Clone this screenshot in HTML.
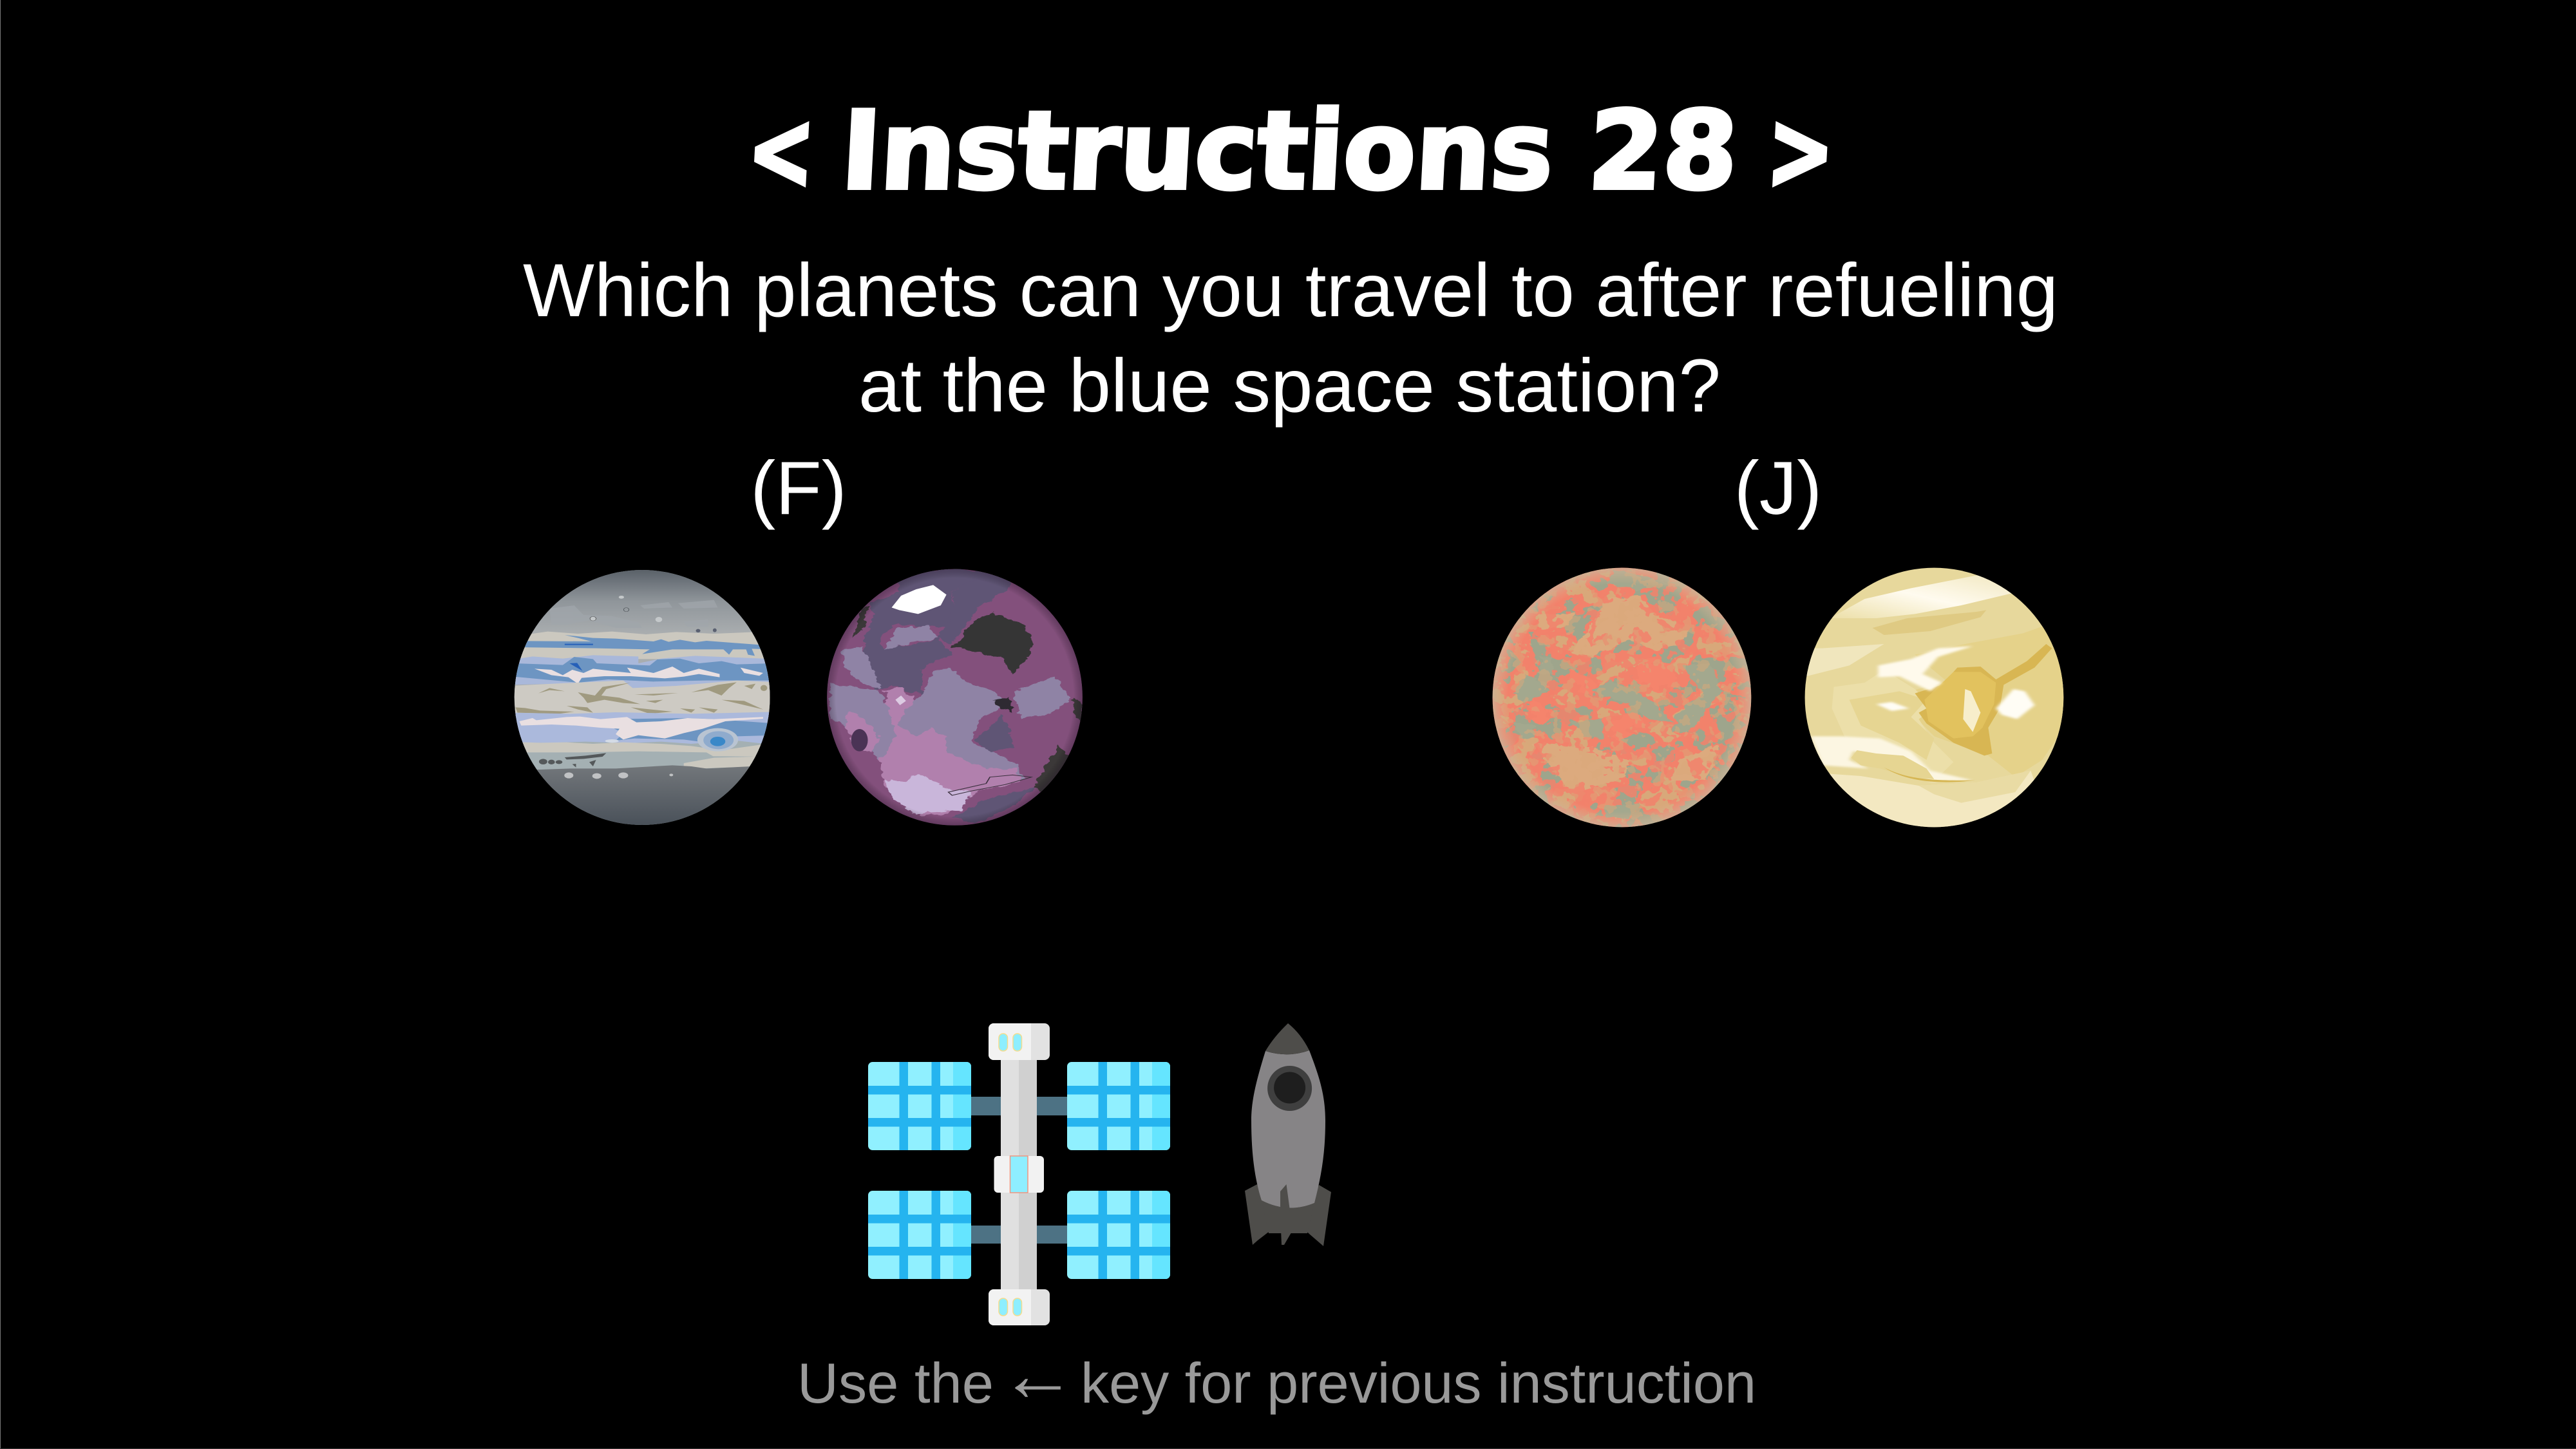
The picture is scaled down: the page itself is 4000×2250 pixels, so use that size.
<!DOCTYPE html>
<html lang="en">
<head>
<meta charset="utf-8">
<title>Instructions 28</title>
<style>
html,body{margin:0;padding:0;background:#000;width:4000px;height:2250px;overflow:hidden}
svg{display:block}
.t{font-family:"Liberation Sans",Arial,sans-serif;fill:#fff}
</style>
</head>
<body>
<svg xmlns="http://www.w3.org/2000/svg" width="4000" height="2250" viewBox="0 0 4000 2250">
<defs>
  <clipPath id="cj"><ellipse cx="370" cy="669" rx="338" ry="594"/></clipPath>
  <clipPath id="cp"><ellipse cx="1197" cy="668" rx="338" ry="597"/></clipPath>
  <clipPath id="co"><ellipse cx="381" cy="669" rx="335" ry="604"/></clipPath>
  <clipPath id="cv"><ellipse cx="1190" cy="669" rx="335" ry="604"/></clipPath>
  <linearGradient id="jtop" x1="0" y1="0" x2="0" y2="1"><stop offset="0" stop-color="#585f67"/><stop offset="0.25" stop-color="#8f959a"/><stop offset="0.5" stop-color="#a9adaf"/></linearGradient>
  <linearGradient id="jbot" x1="0" y1="0" x2="0" y2="1"><stop offset="0" stop-color="#73777b"/><stop offset="1" stop-color="#444c55"/></linearGradient>
  <radialGradient id="edgeP" cx="0.5" cy="0.5" r="0.5"><stop offset="0.93" stop-color="#000" stop-opacity="0"/><stop offset="1" stop-color="#1a0a20" stop-opacity="0.3"/></radialGradient>
  <radialGradient id="edgeO" cx="0.5" cy="0.5" r="0.5"><stop offset="0.88" stop-color="#ddb08a" stop-opacity="0"/><stop offset="1" stop-color="#c9b49a" stop-opacity="0.75"/></radialGradient>
  <linearGradient id="vtop" x1="0" y1="1" x2="1" y2="0"><stop offset="0" stop-color="#ecdfa8"/><stop offset="0.5" stop-color="#fffbef"/><stop offset="1" stop-color="#f1e7bf"/></linearGradient>
  <filter id="mottle" x="0" y="0" width="100%" height="100%" color-interpolation-filters="sRGB">
    <feTurbulence type="fractalNoise" baseFrequency="0.022 0.025" numOctaves="4" seed="11"/>
    <feColorMatrix type="matrix" values="1 0 0 0 0  1 0 0 0 0  1 0 0 0 0  0 0 0 0 1"/>
    <feComponentTransfer>
      <feFuncR type="discrete" tableValues="0.62 0.62 0.62 0.62 0.62 0.62 0.62 0.62 0.62 0.95 0.95 0.95 0.85 0.85 0.85 0.85 0.85 0.85 0.85 0.85"/>
      <feFuncG type="discrete" tableValues="0.65 0.65 0.65 0.65 0.65 0.65 0.65 0.65 0.65 0.51 0.51 0.51 0.66 0.66 0.66 0.66 0.66 0.66 0.66 0.66"/>
      <feFuncB type="discrete" tableValues="0.55 0.55 0.55 0.55 0.55 0.55 0.55 0.55 0.55 0.42 0.42 0.42 0.48 0.48 0.48 0.48 0.48 0.48 0.48 0.48"/>
    </feComponentTransfer>
  </filter>
  <filter id="speckCoral" x="0" y="0" width="100%" height="100%" color-interpolation-filters="sRGB">
    <feTurbulence type="fractalNoise" baseFrequency="0.045 0.05" numOctaves="3" seed="23"/>
    <feColorMatrix type="matrix" values="0 0 0 0 0.95  0 0 0 0 0.51  0 0 0 0 0.42  1 0 0 0 0"/>
    <feComponentTransfer><feFuncA type="discrete" tableValues="0 0 0 0 0 0 0 0 0 0 0 1 1 1 1 1 1 1 1 1"/></feComponentTransfer>
  </filter>
  <filter id="speckTan" x="0" y="0" width="100%" height="100%" color-interpolation-filters="sRGB">
    <feTurbulence type="fractalNoise" baseFrequency="0.05 0.055" numOctaves="3" seed="41"/>
    <feColorMatrix type="matrix" values="0 0 0 0 0.85  0 0 0 0 0.66  0 0 0 0 0.48  1 0 0 0 0"/>
    <feComponentTransfer><feFuncA type="discrete" tableValues="0 0 0 0 0 0 0 0 0 0 0 0 1 1 1 1 1 1 1 1"/></feComponentTransfer>
  </filter>
  <filter id="rough" x="-10%" y="-10%" width="120%" height="120%">
    <feTurbulence type="fractalNoise" baseFrequency="0.035" numOctaves="3" seed="4" result="n"/>
    <feDisplacementMap in="SourceGraphic" in2="n" scale="26" xChannelSelector="R" yChannelSelector="G"/>
  </filter>
  <filter id="b1" x="-20%" y="-20%" width="140%" height="140%"><feGaussianBlur stdDeviation="5"/></filter>
  <g id="panel">
    <rect x="0" y="0" width="160" height="137" rx="7" fill="#90f0ff"/>
    <path d="M132,0H153a7,7 0 0 1 7,7V130a7,7 0 0 1 -7,7H132Z" fill="#65e5ff"/>
    <rect x="48.500" y="0" width="13.500" height="137" fill="#25b4ef"/>
    <rect x="98.500" y="0" width="13.500" height="137" fill="#25b4ef"/>
    <rect x="0" y="37" width="160" height="13.500" fill="#25b4ef"/>
    <rect x="0" y="87" width="160" height="13.500" fill="#25b4ef"/>
  </g>
  <g id="pills">
    <rect x="0" y="0" width="13.500" height="27" rx="6.700" fill="#8eeeff" stroke="#f5dc8c" stroke-width="1.500"/>
    <rect x="22" y="0" width="13.500" height="27" rx="6.700" fill="#8eeeff" stroke="#f5dc8c" stroke-width="1.500"/>
  </g>
</defs>

<rect x="0" y="0" width="4000" height="2250" fill="#000"/>
<rect x="0" y="0" width="1" height="2250" fill="#777"/>
<rect x="0" y="2249" width="4000" height="1" fill="#333"/>

<text transform="translate(0,292) skewX(-3) translate(0,-292)" y="292" font-family="'DejaVu Sans',sans-serif" font-weight="700" font-size="167" fill="#fff" stroke="#fff" stroke-width="6"><tspan x="1158" textLength="104" lengthAdjust="spacingAndGlyphs">&lt;</tspan><tspan x="1304" textLength="1105" lengthAdjust="spacingAndGlyphs">Instructions</tspan><tspan x="2464" textLength="231" lengthAdjust="spacingAndGlyphs">28</tspan><tspan x="2741" textLength="104" lengthAdjust="spacingAndGlyphs">&gt;</tspan></text>

<text class="t" x="812" y="491" font-size="117" textLength="2384" lengthAdjust="spacingAndGlyphs">Which planets can you travel to after refueling</text>
<text class="t" x="1333" y="639" font-size="117" textLength="1339" lengthAdjust="spacingAndGlyphs">at the blue space station?</text>
<text class="t" x="1240" y="798" font-size="117" text-anchor="middle">(F)</text>
<text class="t" x="2761" y="798" font-size="117" text-anchor="middle">(J)</text>

<!-- Striped planet -->
<g transform="translate(780,860) scale(0.5869,0.33333)">
 <g clip-path="url(#cj)">
  <rect x="0" y="60" width="760" height="1240" fill="#a4b0b3"/>
  <rect x="0" y="70" width="760" height="600" fill="url(#jtop)"/>
  <g fill="#a0a6ab" opacity="0.75">
   <path d="M125,255 L190,240 L215,285 L290,290 L360,320 L300,345 L230,310 L170,330 L130,330Z"/>
   <path d="M365,240 L440,225 L450,250 L375,255Z"/><path d="M465,230 L560,215 L570,250 L480,255Z"/>
   <path d="M285,320 L360,320 L370,345 L300,345Z"/><path d="M480,315 L545,305 L545,340 L490,340Z"/>
  </g>
  <ellipse cx="315" cy="202" rx="7" ry="7" fill="#c4c8ca"/>
  <ellipse cx="414" cy="306" rx="9" ry="12" fill="#c4c8ca"/>
  <ellipse cx="240" cy="302" rx="8" ry="10" fill="#c4c8ca" stroke="#555" stroke-width="1.500"/>
  <ellipse cx="328" cy="260" rx="7" ry="9" fill="none" stroke="#4d5358" stroke-width="1.500"/>
  <ellipse cx="518" cy="358" rx="6" ry="8" fill="#5a6070"/>
  <ellipse cx="562" cy="356" rx="5" ry="9" fill="#5a6070"/>
  <path d="M0,375 L80,372 L120,362 L200,372 L290,362 L380,375 L460,364 L560,372 L700,362 L760,370 V490 H0Z" fill="#cbc8bf"/>
  <path d="M165,378 L240,392 L300,395 L400,408 L420,398 L440,410 L470,400 L510,412 L540,405 L690,425 L700,445 L660,442 L668,475 L650,470 L645,445 L610,445 L600,470 L585,445 L450,445 L370,467 L390,445 L250,440 L40,435 L60,406 L235,408 L200,392Z" fill="#6d95c2"/>
  <path d="M165,419 H240 V425 H165Z" fill="#2660b8"/>
  <path d="M30,492 L80,478 L160,488 L240,472 L360,478 L360,510 L420,488 L510,475 L720,490 V620 L620,598 L500,615 L350,640 L200,635 L160,605 L30,610Z" fill="#a9b8da"/>
  <path d="M30,510 L160,518 L190,480 L240,490 L250,510 L390,520 L410,492 L470,488 L520,510 L580,500 L620,515 L720,510 V590 L540,590 L400,595 L280,585 L200,600 L30,572Z" fill="#6d95c2"/>
  <path d="M85,535 L130,540 L160,565 L185,540 L215,555 L240,535 L300,548 L340,555 L330,530 L400,555 L450,525 L480,555 L520,535 L575,560 L575,575 L520,560 L480,572 L430,580 L340,570 L270,570 L210,578 L200,605 L175,575 L130,565Z" fill="#e9dfe1"/>
  <path d="M630,530 L690,555 L680,568 L640,555Z" fill="#e9dfe1"/>
  <path d="M178,510 L198,508 L212,545 L192,525Z" fill="#2660b8"/>
  <path d="M20,615 L170,602 L320,590 L345,625 L460,615 L620,590 L720,598 V760 H20Z" fill="#cdcac3"/>
  <g fill="#a09a80">
   <path d="M95,650 L125,625 L165,640 L125,635Z"/>
   <path d="M200,645 L245,660 L265,620 L340,600 L275,630 L262,660 L310,670 L365,700 L320,695 L270,680 L225,695 L215,670Z"/>
   <path d="M350,655 L465,648 L400,660Z"/><path d="M380,685 L425,680 L405,695Z"/>
   <path d="M500,645 L570,610 L620,598 L600,625 L580,660 L545,635Z"/>
   <path d="M640,615 L670,605 L660,630Z"/><ellipse cx="692" cy="625" rx="9" ry="14"/>
   <path d="M580,680 L640,685 L690,725 L630,700Z"/>
   <path d="M35,715 L60,718 L100,730 L190,735 L150,745 L40,740Z"/><path d="M170,708 L225,715 L240,740 L200,725Z"/>
   <path d="M340,715 L450,735 L390,745Z"/><path d="M470,720 L510,725 L500,740Z"/><path d="M520,715 L570,725 L560,740Z"/>
  </g>
  <path d="M20,740 L180,745 L300,738 L500,745 L720,736 V890 L620,870 L500,885 L420,875 L330,882 L220,875 L130,880 L20,880Z" fill="#abb9dc"/>
  <path d="M290,770 L500,765 L560,770 L720,790 V845 L620,850 L600,890 L545,880 L480,865 L350,860 L300,870 L320,835 L280,800Z" fill="#6d95c2"/>
  <path d="M45,780 L80,765 L90,775 L170,760 L205,758 L260,770 L330,760 L355,785 L420,780 L490,765 L560,770 L690,760 L690,768 L590,780 L530,815 L480,835 L430,860 L360,845 L320,865 L300,840 L310,815 L260,810 L195,800 L130,795 L50,800Z" fill="#e9dfe1"/>
  <ellipse cx="290" cy="872" rx="18" ry="8" fill="#d4dbe6"/>
  <path d="M20,880 L60,878 L100,880 L170,878 L240,885 L320,878 L420,885 L500,895 L580,915 L620,905 L720,880 V945 L20,935Z" fill="#cbc8bf"/>
  <ellipse cx="570" cy="866" rx="54" ry="54" fill="#b9c4d2"/>
  <ellipse cx="572" cy="868" rx="40" ry="42" fill="#8fabcd"/>
  <ellipse cx="570" cy="874" rx="20" ry="22" fill="#3a88c8"/>
  <path d="M20,925 L200,925 L360,920 L540,925 L560,945 L480,970 L470,990 L720,985 V1015 H20Z" fill="#a4b0b3"/>
  <path d="M480,975 L560,950 L660,945 L720,930 V990 L600,995 L520,1000 L480,990Z" fill="#cbc8bf"/>
  <g fill="#54585a">
   <ellipse cx="108" cy="968" rx="11" ry="13"/><ellipse cx="130" cy="970" rx="9" ry="11"/><ellipse cx="150" cy="970" rx="9" ry="9"/>
   <path d="M165,948 L220,940 L275,928 L265,945 L215,955 L170,958Z"/><path d="M185,980 L195,978 L195,995Z"/><path d="M230,970 L248,960 L240,990Z"/>
  </g>
  <path d="M0,1005 L100,1005 L180,1000 L300,1000 L450,985 L500,990 L540,1000 L660,990 L760,985 V1300 H0Z" fill="url(#jbot)"/>
  <g fill="#c0c2c4">
   <ellipse cx="176" cy="1032" rx="12" ry="14"/><ellipse cx="250" cy="1035" rx="12" ry="13"/><ellipse cx="320" cy="1032" rx="13" ry="14"/><ellipse cx="447" cy="1030" rx="5" ry="6"/>
  </g>
 </g>
</g>

<!-- Purple planet -->
<g transform="translate(780,860) scale(0.5869,0.33333)">
 <g clip-path="url(#cp)">
  <rect x="840" y="60" width="720" height="1220" fill="#83507c"/>
  <g filter="url(#rough)">
   <path d="M1050,75 L1350,75 L1345,160 L1200,150 L1190,220 L1190,340 L1040,330 L1000,390 L1010,440 L1100,420 L1150,395 L1190,470 L1160,490 L1110,540 L1110,660 L1030,610 L990,640 L960,540 L960,430 L960,380 L980,300 L970,230 L1050,180Z" fill="#5f5475"/>
   <path d="M1200,150 L1260,120 L1340,160 L1260,250 L1190,420 L1150,395 L1180,320Z" fill="#5f5475"/>
   <path d="M1090,340 L1130,330 L1150,395 L1100,410 L1015,445 L1040,350Z" fill="#8f83a5"/>
   <path d="M900,450 L950,430 L975,510 L1000,630 L950,600 L905,520Z" fill="#8f83a5"/>
   <path d="M865,600 L1000,640 L1015,700 L1100,680 L1140,550 L1190,530 L1230,600 L1300,640 L1330,700 L1260,780 L1240,880 L1300,920 L1360,980 L1380,1050 L1200,1130 L1040,1040 L1000,960 L900,800 L870,760Z" fill="#8f83a5"/>
   <path d="M1350,640 L1400,610 L1460,570 L1505,680 L1440,750 L1375,770Z" fill="#8f83a5"/>
   <path d="M1250,870 L1320,750 L1345,830 L1355,900 L1290,920Z" fill="#5f5475"/>
   <path d="M1012,640 L1060,620 L1092,680 L1060,750 L1040,800 L1100,850 L1130,810 L1172,850 L1180,930 L1280,1000 L1360,1000 L1370,1060 L1240,1120 L1180,1210 L1110,1220 L1010,1080 L1000,960 L1040,850Z" fill="#b180ad"/>
   <path d="M915,735 L960,770 L1000,860 L975,930 L930,880 L905,800Z" fill="#b180ad"/>
   <path d="M1010,1050 L1060,1065 L1100,1020 L1170,1090 L1240,1110 L1210,1195 L1090,1210 L1030,1130Z" fill="#c9b6da"/>
   <path d="M1190,1225 L1300,1130 L1410,1090 L1350,1180 L1250,1255Z" fill="#5f5475"/>
   <path d="M1190,440 L1250,310 L1300,275 L1390,340 L1405,430 L1395,470 L1350,560 L1320,480 L1240,450Z" fill="#363436"/>
   <path d="M1405,1090 L1470,890 L1510,960 L1440,1125Z" fill="#3a3838"/>
   <path d="M925,390 L950,260 L970,250 L960,340Z" fill="#3a3838"/>
   <path d="M1510,670 L1540,700 L1535,790 L1510,740Z" fill="#3a3838"/>
   <path d="M1300,680 L1345,670 L1350,740 L1320,720Z" fill="#2e2a30"/>
  </g>
  <path d="M1030,250 L1055,195 L1095,165 L1140,145 L1175,190 L1160,240 L1100,280 L1050,262Z" fill="#fff"/>
  <path d="M1040,680 L1055,660 L1068,685 L1052,705Z" fill="#dccbe2"/>
  <ellipse cx="945" cy="868" rx="22" ry="52" fill="#4a3355"/>
  <path d="M1180,1110 L1280,1070 L1290,1040 L1350,1030 L1400,1040 L1330,1075 L1240,1105 L1190,1125Z" fill="none" stroke="#3a2f3d" stroke-width="3"/>
  <ellipse cx="1197" cy="668" rx="338" ry="597" fill="url(#edgeP)"/>
 </g>
</g>

<!-- Orange planet -->
<g transform="translate(2290,860) scale(0.5995,0.33333)">
 <g clip-path="url(#co)">
  <g transform="scale(1.668,3)"><rect x="0" y="0" width="470" height="440" filter="url(#mottle)"/></g>
  <g filter="url(#rough)">
   <g fill="#dcaa7e">
    <path d="M340,210 L430,195 L470,290 L560,340 L530,420 L470,450 L400,400 L300,480 L250,460 L290,370Z"/>
    <path d="M150,880 L300,900 L400,960 L390,1040 L250,1120 L200,1000Z"/>
    <path d="M540,950 L640,880 L600,1050 L500,1060Z"/>
    <path d="M160,280 L260,280 L240,340 L170,350Z"/>
    <path d="M440,350 L520,340 L540,400 L470,420Z"/>
   </g>
   <g fill="#f5846c">
    <path d="M440,480 L510,510 L530,620 L470,650 L400,580Z"/>
    <path d="M330,760 L420,740 L445,790 L380,870 L320,830Z"/>
    <path d="M150,680 L210,740 L180,800 L130,760Z"/>
    <path d="M250,540 L330,600 L300,660 L240,620Z"/>
   </g>
  </g>
  <g transform="scale(1.668,3)"><rect x="0" y="0" width="470" height="440" filter="url(#speckCoral)" opacity="0.85"/></g>
  <g filter="url(#rough)">
   <g fill="#dcaa7e">
    <path d="M340,230 L420,215 L450,300 L370,350 L300,400Z"/>
    <path d="M200,920 L310,930 L350,1020 L250,1080Z"/>
   </g>
   <g fill="#f5846c">
    <path d="M450,510 L500,530 L510,610 L450,620Z"/>
    <path d="M350,780 L410,760 L420,800 L360,830Z"/>
   </g>
   <g fill="#a3a88e">
    <path d="M350,590 L420,640 L470,700 L510,790 L450,770 L400,700 L300,640Z"/>
    <path d="M540,520 L610,510 L640,640 L600,720 L560,830 L510,830 L530,730 L590,650Z"/>
    <path d="M130,560 L180,600 L190,640 L130,700 L100,650Z"/>
    <path d="M250,780 L330,770 L330,860 L280,850Z"/>
    <path d="M100,790 L150,790 L160,860 L120,860Z"/>
    <path d="M170,480 L200,480 L200,560 L170,560Z"/>
    <path d="M360,80 L440,100 L500,140 L420,170 L340,140Z"/>
    <path d="M340,1170 L430,1170 L400,1230 L340,1230Z"/>
   </g>
  </g>
  <g transform="scale(1.668,3)"><rect x="0" y="0" width="470" height="440" filter="url(#speckTan)" opacity="0.5"/></g>
  <ellipse cx="381" cy="669" rx="335" ry="604" fill="url(#edgeO)"/>
 </g>
</g>

<!-- Cream planet -->
<g transform="translate(2290,860) scale(0.5995,0.33333)">
 <g clip-path="url(#cv)">
  <rect x="840" y="60" width="700" height="1220" fill="#e7d89c"/>
  <path d="M920,300 L1010,210 L1130,160 L1300,100 L1400,130 L1400,180 L1260,240 L1140,280 L1040,300Z" fill="url(#vtop)"/>
  <path d="M1030,345 L1120,300 L1300,270 L1325,262 L1310,295 L1180,360 L1060,378Z" fill="#dfca83"/>
  <path d="M860,570 L970,520 L1060,420 L900,440 L850,440Z" fill="#f0e6bd"/>
  <path d="M1140,470 L1240,430 L1420,370 L1530,300 V800 L1470,960 L1400,1040 L1330,940 L1190,850 L1130,740 L1130,640 L1220,590Z" fill="#e5d28a"/>
  <path d="M930,620 L1010,600 L1060,540 L1140,630 L1190,720 L1150,770 L1190,880 L1240,970 L1200,1040 L1030,960 L960,860 L925,720Z" fill="#ecdfa9"/>
  <path d="M970,680 L1100,640 L1170,680 L1130,760 L1190,860 L1170,960 L1100,880 L1000,800Z" fill="#e6d592"/>
  <path d="M1140,650 L1210,610 L1250,530 L1310,525 L1350,585 L1430,500 L1480,420 L1495,440 L1450,530 L1370,610 L1360,720 L1330,810 L1340,930 L1320,940 L1240,880 L1170,790 L1150,740 L1170,720Z" fill="#d8b653"/>
  <path d="M1165,680 L1240,550 L1310,550 L1350,600 L1345,700 L1315,810 L1290,850 L1240,860 L1175,780Z" fill="#e2c25e"/>
  <path d="M1270,630 L1285,640 L1310,740 L1290,830 L1265,770Z" fill="#f7eecb"/>
  <g filter="url(#b1)">
   <path d="M1045,520 L1130,490 L1200,440 L1290,430 L1200,480 L1160,560 L1210,600 L1180,640 L1100,570 L1045,575Z" fill="#fffaec"/>
   <path d="M1350,720 L1395,630 L1425,640 L1450,705 L1405,770 L1365,750Z" fill="#fffdf5"/>
   <path d="M1040,700 L1080,690 L1125,720 L1080,732Z" fill="#fffdf5"/>
   <path d="M870,850 L950,850 L1050,860 L1130,920 L1180,1010 L1290,1055 L1180,1060 L1130,990 L1020,930 L980,920 L970,960 L1020,1000 L900,985Z" fill="#fcf6e2"/>
  </g>
  <path d="M975,950 L990,915 L1040,930 L1110,940 L1170,1000 L1190,1050 L1120,1040 L1050,1000 L1000,985Z" fill="#e6d592"/>
  <path d="M1060,995 C1110,1040 1160,1060 1296,1055 C1230,1070 1130,1075 1060,995Z" fill="#d6b654"/>
  <path d="M880,1020 L1000,1035 L1150,1080 L1300,1065 L1440,1010 L1450,1060 L1340,1290 L1060,1290Z" fill="#f3e8c1"/>
  <path d="M1150,1080 L1300,1065 L1440,1010 L1400,1110 L1260,1160 L1190,1120Z" fill="#e9dba4"/>
 </g>
</g>

<!-- Space station -->
<g>
 <rect x="1508" y="1703" width="149" height="29" fill="#4d7284"/>
 <rect x="1508" y="1903" width="149" height="28" fill="#4d7284"/>
 <use href="#panel" x="1348" y="1649"/>
 <use href="#panel" x="1657" y="1649"/>
 <use href="#panel" x="1348" y="1849"/>
 <use href="#panel" x="1657" y="1849"/>
 <rect x="1554" y="1640" width="28" height="370" fill="#e0e0e0"/>
 <rect x="1582" y="1640" width="28" height="370" fill="#d0d0d0"/>
 <g>
  <rect x="1535" y="1589" width="95" height="57" rx="8" fill="#e2e2e2"/>
  <path d="M1543,1589H1601V1646H1543a8,8 0 0 1 -8,-8V1597a8,8 0 0 1 8,-8Z" fill="#f2f2f2"/>
  <use href="#pills" x="1551" y="1605"/>
 </g>
 <g>
  <rect x="1543.500" y="1795" width="77.500" height="57" rx="6" fill="#f2f2f2"/>
  <rect x="1568.500" y="1795" width="27.500" height="57" fill="#8eeeff" stroke="#f0957f" stroke-width="1.500"/>
 </g>
 <g>
  <rect x="1535" y="2002" width="95" height="56" rx="8" fill="#e2e2e2"/>
  <path d="M1543,2002H1601V2058H1543a8,8 0 0 1 -8,-8V2010a8,8 0 0 1 8,-8Z" fill="#f2f2f2"/>
  <use href="#pills" x="1551" y="2016"/>
 </g>
</g>

<!-- Rocket -->
<g>
 <path d="M1952,1839 L1933,1849 L1945,1933 L1953,1926 L1975,1909 L1989,1909 L1990,1933 L1994,1933 L2008,1909 L2025,1909 L2055,1935 L2067,1851 L2048,1840 L2040,1860 L1960,1860Z" fill="#4e4d4a"/>
 <path d="M1965,1632 C1950,1680 1943,1710 1943,1740 C1943,1790 1948,1830 1959,1864 Q2000,1885 2041,1868 C2052,1825 2058,1790 2058,1740 C2058,1700 2048,1670 2033,1631 Q2000,1643 1965,1632Z" fill="#868486"/>
 <path d="M1959,1864 Q2000,1885 2041,1868 L2030,1915 L1970,1915Z" fill="#4e4d4a"/>
 <path d="M2000,1589 Q1978,1610 1965,1632 Q2000,1643 2033,1631 Q2020,1605 2000,1589Z" fill="#4e4d4a"/>
 <ellipse cx="2002.600" cy="1690" rx="34.500" ry="35" fill="#3f3f3f"/>
 <ellipse cx="2002.600" cy="1689" rx="24.500" ry="24.500" fill="#1e1e1e"/>
 <path d="M1997.500,1839 L1988,1850 L1988,1880 L2003,1880Z" fill="#4e4d4a"/>
</g>

<text class="t" y="2178" font-size="88" style="fill:#999"><tspan x="1238" textLength="305" lengthAdjust="spacingAndGlyphs">Use the</tspan> <tspan x="1552" y="2175" font-size="119">←</tspan> <tspan x="1678" y="2178" textLength="1049" lengthAdjust="spacingAndGlyphs">key for previous instruction</tspan></text>
</svg>
</body>
</html>
